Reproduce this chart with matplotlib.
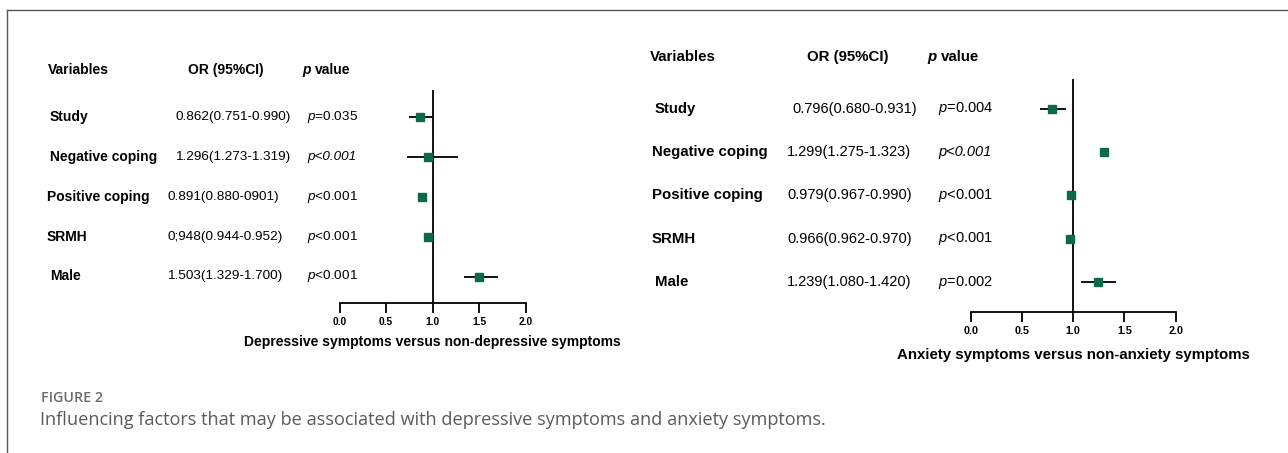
import numpy as np
import matplotlib
matplotlib.use('Agg')
import matplotlib.pyplot as plt
from matplotlib.transforms import blended_transform_factory

plt.rcParams['font.family'] = ['Liberation Sans', 'DejaVu Sans']
plt.rcParams['mathtext.fontset'] = 'custom'
plt.rcParams['mathtext.rm'] = 'Liberation Sans'
plt.rcParams['mathtext.it'] = 'Liberation Sans:italic'

variables = ['Study', 'Negative coping', 'Positive coping', 'SRMH', 'Male']

# depressive symptoms panel
dep_or_text = ['0.862(0.751-0.990)', '1.296(1.273-1.319)', '0.891(0.880-0901)',
               '0;948(0.944-0.952)', '1.503(1.329-1.700)']
dep_p_text = ['=0.035', '<0.001', '<0.001', '<0.001', '<0.001']
dep_p_italic = [False, True, False, False, False]
dep_est = [0.86, 0.95, 0.885, 0.945, 1.50]
dep_lo = [0.75, 0.72, 0.880, 0.944, 1.33]
dep_hi = [0.99, 1.27, 0.901, 0.952, 1.70]

# anxiety symptoms panel
anx_or_text = ['0.796(0.680-0.931)', '1.299(1.275-1.323)', '0.979(0.967-0.990)',
               '0.966(0.962-0.970)', '1.239(1.080-1.420)']
anx_p_text = ['=0.004', '<0.001', '<0.001', '<0.001', '=0.002']
anx_p_italic = [False, True, False, False, False]
anx_est = [0.796, 1.30, 0.979, 0.966, 1.239]
anx_lo = [0.680, 1.275, 0.967, 0.962, 1.080]
anx_hi = [0.931, 1.323, 0.990, 0.970, 1.420]

xticks = [0.0, 0.5, 1.0, 1.5, 2.0]

W, H = 1288, 453
fig = plt.figure(figsize=(W / 100, H / 100), dpi=100)

def fx(px):
    return px / W

def fy(py):
    return 1 - py / H

green = '#0b6b47'


def panel(x0, x1, ytop, ybot, row0, step, est, lo, hi, tfs):
    ax = fig.add_axes([fx(x0), fy(ybot), fx(x1 - x0), (ybot - ytop) / H])
    rows = np.arange(len(est))
    est = np.array(est)
    err = [est - np.array(lo), np.array(hi) - est]
    ax.errorbar(est, rows, xerr=err, fmt='none', ecolor='black', elinewidth=1.3,
                capsize=0, zorder=2)
    ax.plot(est, rows, 's', color=green, markersize=6, zorder=3)
    ax.axvline(1.0, color='black', lw=1.3, zorder=1)
    ax.set_xlim(0, 2)
    ax.set_ylim((ybot - row0) / step, (ytop - row0) / step)
    for s in ['left', 'top', 'right']:
        ax.spines[s].set_visible(False)
    ax.spines['bottom'].set_linewidth(1.3)
    ax.set_yticks([])
    ax.set_xticks(xticks)
    ax.set_xticklabels(['%.1f' % t for t in xticks], fontsize=tfs, fontweight='bold')
    ax.tick_params(axis='x', direction='out', length=7.5, width=1.3, pad=3)
    ax.patch.set_alpha(0)
    return ax


def table(ax, head_y, xs, var_x, or_x, p_x, or_text, p_text, p_italic, fs):
    tr = blended_transform_factory(fig.transFigure, ax.transData)
    fig.text(fx(xs[0]), fy(head_y), 'Variables', fontsize=fs, fontweight='bold', va='center')
    fig.text(fx(xs[1]), fy(head_y), 'OR (95%CI)', fontsize=fs, fontweight='bold', va='center')
    fig.text(fx(xs[2]), fy(head_y), 'p', fontsize=fs, fontweight='bold', style='italic', va='center')
    fig.text(fx(xs[2] + fs * 1.25), fy(head_y), 'value', fontsize=fs, fontweight='bold', va='center')
    for i in range(len(variables)):
        ax.text(fx(var_x[i]), i, variables[i], transform=tr, fontsize=fs, fontweight='bold',
                va='center', clip_on=False)
        ax.text(fx(or_x[i]), i, or_text[i], transform=tr, fontsize=fs - 0.3,
                va='center', clip_on=False)
        if p_italic[i]:
            ax.text(fx(p_x), i, 'p' + p_text[i], transform=tr, fontsize=fs - 0.3,
                    style='italic', va='center', clip_on=False)
        else:
            ax.text(fx(p_x), i, '$p$' + p_text[i], transform=tr, fontsize=fs - 0.3,
                    va='center', clip_on=False)


ax1 = panel(339.5, 526, 90, 302.7, 117.3, 39.8, dep_est, dep_lo, dep_hi, 7.4)
table(ax1, 70, [48, 188, 302], [50, 50, 47, 47, 50], [175, 175, 167, 167, 167], 307,
      dep_or_text, dep_p_text, dep_p_italic, 10)
fig.text(fx(432.5), fy(342), 'Depressive symptoms versus non-depressive symptoms',
         fontsize=10, fontweight='bold', ha='center', va='center')

ax2 = panel(970.7, 1175.7, 79.3, 311.7, 108.5, 43.5, anx_est, anx_lo, anx_hi, 7.8)
table(ax2, 57, [650, 807, 927], [655, 652, 652, 652, 655], [792, 787, 787, 787, 787], 938,
      anx_or_text, anx_p_text, anx_p_italic, 10.8)
fig.text(fx(1073), fy(355), 'Anxiety symptoms versus non-anxiety symptoms',
         fontsize=10.8, fontweight='bold', ha='center', va='center')

# frame and caption
fig.add_artist(plt.Line2D([fx(7), 1], [fy(10), fy(10)], color='#555555', lw=1))
fig.add_artist(plt.Line2D([fx(7), fx(7)], [fy(10), 0], color='#555555', lw=1))
fig.text(fx(41), fy(398), 'FIGURE 2', fontsize=10.3, fontweight='semibold', color='#6b6b6b',
         va='center', family=['Open Sans', 'DejaVu Sans'])
fig.text(fx(40), fy(420), 'Influencing factors that may be associated with depressive '
         'symptoms and anxiety symptoms.', fontsize=13.1, color='#5a5a5a', va='center',
         family=['Open Sans', 'DejaVu Sans'])

fig.savefig('out.png', dpi=100)
